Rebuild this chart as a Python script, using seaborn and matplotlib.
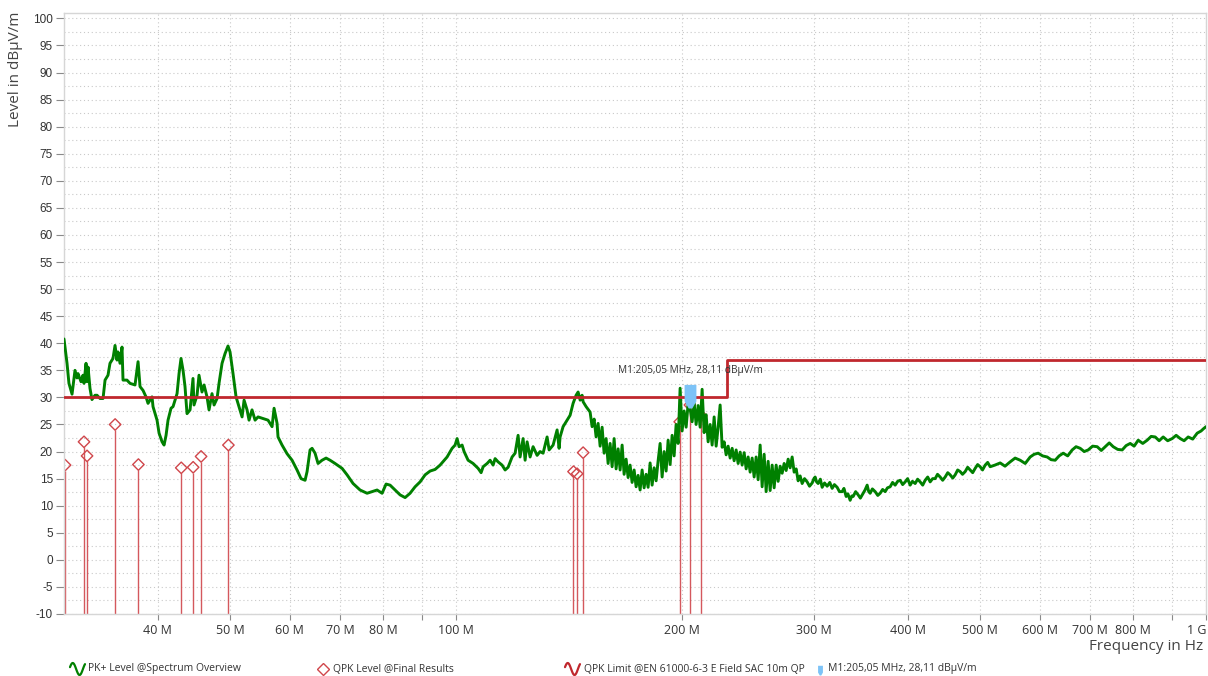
import numpy as np
import pandas as pd
import seaborn as sns
import matplotlib.pyplot as plt
from matplotlib.lines import Line2D
from matplotlib.path import Path
from matplotlib.ticker import NullLocator

# PK+ trace (MHz, dBuV/m)
pk_freq = [
    30.00, 30.28, 30.46, 30.75, 31.03, 31.22, 31.32, 31.61, 31.80, 31.90, 32.10, 32.20, 32.30, 32.49,
    32.69, 33.00, 33.20, 33.51, 33.82, 34.03, 34.34, 34.55, 34.87, 35.09, 35.30, 35.41, 35.63, 35.85,
    35.96, 36.40, 36.74, 37.31, 37.66, 37.89, 38.24, 38.59, 38.83, 39.31, 39.43, 39.92, 40.17, 40.54,
    40.79, 41.04, 41.29, 41.67, 41.93, 42.45, 42.71, 42.97, 43.24, 43.50, 43.77, 44.18, 44.58, 44.72,
    45.14, 45.41, 45.83, 46.12, 46.54, 46.83, 47.26, 47.56, 48.00, 48.29, 48.74, 49.19, 49.64, 49.95,
    50.41, 50.88, 51.19, 51.83, 52.15, 52.63, 52.95, 53.44, 53.94, 54.44, 55.28, 56.13, 56.83, 57.18,
    57.71, 57.88, 58.60, 59.51, 60.43, 61.36, 62.12, 62.89, 63.28, 63.86,
    64.26, 64.45, 64.85, 65.25, 65.45, 66.26, 67.08, 67.91, 68.96, 70.46, 71.55, 72.88, 74.46, 76.08,
    77.26, 78.45, 79.67, 80.65, 81.65, 82.91, 84.20, 85.50, 86.82, 88.17, 89.53, 90.92, 92.32, 93.75,
    95.20, 97.27, 98.78, 99.69, 100.30, 100.92, 101.86, 102.48, 103.75, 105.36, 106.99, 107.98, 108.65,
    109.99, 111.01, 112.03, 112.72, 113.76, 115.16, 116.24, 117.31, 118.76, 119.86, 120.97, 121.71,
    122.84, 123.60, 124.36, 125.51, 126.67, 128.24, 129.42, 130.62, 132.23, 133.05, 134.70,
    136.36, 137.20, 137.62, 138.89, 140.61, 141.91, 143.22, 144.55, 145.44, 146.34, 147.24, 147.70,
    149.06,
    150.90, 151.83, 152.77, 153.71, 154.66, 155.61, 156.57, 157.53, 158.50, 159.48, 160.46, 161.45,
    162.45, 163.45, 164.46, 165.47, 166.49, 167.51, 168.54, 169.58, 170.62, 171.67, 172.74, 173.80,
    174.87, 175.95, 177.03, 178.12, 179.22, 180.32, 181.43, 182.55, 183.68, 184.81, 185.95, 187.09,
    188.25, 189.41, 190.57, 191.75, 192.93, 194.12, 195.31, 196.51, 197.72, 198.94, 200.17, 201.40,
    202.64, 203.89, 205.05, 206.41, 207.69, 208.97, 210.25, 211.55, 212.85, 214.17, 215.49, 216.81,
    218.15, 219.49, 220.85, 222.21, 223.58, 224.95, 226.34, 227.73, 229.14, 230.55, 231.97, 233.40,
    234.84, 236.29, 237.74, 239.21, 240.68, 242.16, 243.66, 245.16, 246.67, 248.19, 249.71, 251.25,
    252.80, 254.36, 255.92, 257.50, 259.09, 260.68, 262.29, 263.90, 265.53, 267.17, 268.81, 270.47,
    272.13, 273.81, 275.50, 277.19, 278.90, 280.62, 282.35, 284.09, 285.84, 287.60, 289.37,
    291.5, 293.85, 296.0, 298.40,
    300.0, 301.16, 302.5, 303.95, 306.0, 307.70, 310.0, 312.46, 315.0, 317.30, 319.5, 322.20, 324.5,
    327.19, 329.0, 331.24, 333.0, 335.33, 337.0, 338.44, 341.0, 343.67, 346.0, 348.99, 351.0, 353.30,
    355.0, 356.57, 359.0, 362.09, 365.0, 367.69, 370.5, 373.38, 376.0, 379.16, 382.0, 385.03, 388.0,
    390.99, 394.0, 397.04, 400.0, 403.18, 406.0, 409.41, 412.5, 415.75, 419.0, 422.18, 425.5, 428.71,
    432.0, 435.35, 438.5, 442.09, 445.5, 448.93, 452.5, 455.87, 459.5, 462.93, 466.5, 470.09, 473.5,
    477.36, 481.0, 484.75, 488.5, 492.25, 496.0, 499.86, 503.5, 507.61, 511.5, 515.46,
    523.0, 531.53, 539.5, 548.10, 556.5, 565.20, 574.0, 582.83, 590.0, 597.32, 605.5, 614.06, 621.5,
    629.34, 637.0, 644.99, 654.0, 663.07, 671.0, 679.56, 688.0, 696.45, 706.0, 715.97, 725.0, 733.78,
    743.0, 752.04, 762.5, 773.11, 782.5, 792.35, 802.0, 812.04, 823.5, 834.79, 845.0, 855.56, 866.0,
    876.84, 889.0, 901.42, 912.5, 923.85, 935.0, 946.80, 960.0, 973.34, 985.0, 992.0, 1000.0,
]
pk_level = [
    40.8, 36.3, 32.6, 30.6, 35.0, 33.6, 34.4, 32.9, 34.1, 32.6, 36.3, 32.9, 35.6, 31.7,
    29.6, 30.4, 30.4, 29.8, 29.8, 33.2, 34.1, 36.3, 37.2, 39.6, 36.9, 38.4, 36.3, 39.3,
    33.2, 33.2, 32.6, 32.3, 36.6, 32.0, 31.3, 30.1, 28.9, 30.1, 28.3, 25.8, 23.4, 21.8,
    21.2, 23.0, 25.8, 28.0, 28.3, 30.7, 34.4, 37.2, 35.0, 32.0, 27.0, 27.7, 33.5, 28.6,
    30.4, 34.1, 31.0, 32.3, 30.1, 27.7, 30.7, 28.6, 29.8, 32.6, 36.3, 38.1, 39.5, 38.4,
    34.4, 30.1, 28.9, 26.4, 29.5, 27.7, 25.8, 27.7, 25.8, 26.4, 26.1, 25.8, 24.6, 28.0,
    25.2, 22.7, 21.2, 19.6, 18.4, 16.6, 15.0, 14.7, 16.3, 20.3,
    20.6, 20.3, 19.7, 18.4, 17.8, 18.4, 18.8, 18.4, 17.8, 16.9, 15.7, 14.1, 12.9, 12.3,
    12.6, 12.9, 12.3, 14.0, 13.8, 12.9, 12.0, 11.5, 12.3, 13.5, 14.4, 15.7, 16.4, 16.7,
    17.5, 19.0, 20.6, 21.2, 22.4, 20.9, 21.2, 20.0, 18.4, 17.8, 16.9, 16.1, 17.2,
    17.8, 18.4, 17.5, 18.7, 18.1, 17.5, 16.6, 17.1, 19.0, 19.7, 23.0, 19.0,
    22.4, 18.4, 21.8, 19.0, 20.9, 19.3, 20.0, 19.7, 22.7, 20.3, 21.2,
    24.0, 20.6, 22.7, 24.6, 25.8, 26.7, 28.9, 30.4, 31.0, 29.5, 30.4, 29.2,
    28.3,
    27.3, 24.6, 26.0, 22.7, 25.2, 21.0, 24.5, 19.7, 22.4, 17.8, 21.5, 17.2,
    22.4, 16.8, 20.5, 16.6, 21.2, 15.8, 18.6, 15.2, 17.5, 14.3, 16.6, 13.5,
    15.6, 12.9, 16.6, 13.3, 15.8, 13.4, 17.9, 13.8, 17.0, 14.6, 18.3, 21.5,
    15.3, 20.0, 16.4, 22.1, 17.6, 23.0, 19.2, 25.0, 21.5, 31.7, 23.8, 27.5,
    24.5, 28.8, 28.1, 25.5, 29.0, 25.0, 28.5, 24.5, 31.5, 23.5, 26.8, 21.8,
    25.0, 21.2, 26.4, 21.0, 24.5, 28.6, 20.8, 21.8, 19.4, 21.0, 18.8, 20.6,
    18.3, 20.3, 17.8, 19.9, 17.5, 19.8, 16.8, 19.0, 16.2, 18.8, 15.3, 19.0,
    14.8, 21.2, 13.5, 19.5, 12.6, 18.2, 12.8, 17.5, 13.3, 17.5, 14.5, 17.3,
    16.0, 17.8, 16.5, 18.6, 17.0, 19.0, 16.2, 16.8, 14.6, 15.5, 14.1,
    15.0, 14.4, 13.6, 14.2,
    15.0, 15.3, 14.4, 14.1, 14.9, 13.4, 14.2, 13.6, 14.3, 13.2, 13.9, 13.4, 12.6,
    12.6, 13.2, 11.7, 12.2, 11.0, 11.8, 11.7, 12.6, 12.0, 11.4, 12.3, 12.9, 13.8,
    12.6, 12.3, 13.1, 12.6, 11.9, 12.3, 13.0, 12.6, 13.3, 13.5, 14.3, 13.8, 14.5,
    14.7, 13.9, 14.4, 15.0, 13.8, 14.5, 14.1, 14.9, 14.4, 13.8, 14.7, 15.3, 14.4,
    15.0, 15.0, 15.8, 15.3, 14.7, 15.3, 16.1, 15.7, 15.1, 15.7, 16.6, 16.3, 15.8,
    16.3, 17.1, 16.6, 16.1, 16.9, 17.6, 17.2, 16.6, 17.5, 18.0, 17.2,
    17.5, 17.9, 17.3, 18.1, 18.8, 18.4, 17.8, 19.0, 19.5, 19.7, 19.2, 19.0, 18.5,
    18.4, 19.2, 19.7, 19.2, 20.3, 20.9, 20.6, 20.0, 20.3, 21.0, 20.9, 20.2, 20.9,
    21.6, 20.9, 20.4, 20.3, 21.1, 21.5, 21.0, 22.1, 21.5, 22.1, 22.8, 22.7, 22.0,
    22.7, 22.0, 22.4, 23.0, 22.4, 22.0, 22.7, 22.3, 23.4, 23.8, 24.2, 24.6,
]

# limit line EN 61000-6-3
limit_freq = [30, 230, 230, 1000]
limit_level = [30, 30, 37, 37]

# QPK final results
qpk_freq = [30.1, 31.9, 32.2, 35.1, 37.7, 43.0, 44.6, 45.7, 49.7, 143.4, 145.0, 147.7, 198.7, 205.0, 212.3]
qpk_level = [17.5, 21.8, 19.2, 25.0, 17.6, 17.0, 17.1, 19.1, 21.2, 16.3, 15.9, 19.8, 25.5, 28.6, 26.6]

marker_freq = 205.05
marker_level = 28.11
marker_text = "M1:205,05 MHz, 28,11 dBµV/m"

x_ticks = [40, 50, 60, 70, 80, 90, 100, 200, 300, 400, 500, 600, 700, 800, 900, 1000]
x_tick_labels = ["40 M", "50 M", "60 M", "70 M", "80 M", "", "100 M", "200 M", "300 M",
                 "400 M", "500 M", "600 M", "700 M", "800 M", "", "1 G"]
y_ticks = list(range(-10, 101, 5))

legend_labels = ["PK+ Level @Spectrum Overview", "QPK Level @Final Results",
                 "QPK Limit @EN 61000-6-3 E Field SAC 10m QP", marker_text]

green = "#008000"
red = "#c0272d"
qpk_red = "#d0464b"
blue = "#7dc3f7"
grid_c = "#c9c9c9"
text_c = "#333333"

sns.set_theme(style="white")
plt.rcParams['font.family'] = ['Open Sans', 'DejaVu Sans']
plt.rcParams['axes.unicode_minus'] = False

W, H = 1208, 676
fig = plt.figure(figsize=(W / 100, H / 100), dpi=100)
ax = fig.add_axes([64 / W, 62 / H, 1142 / W, 601 / H])

pk = pd.DataFrame({"freq": pk_freq, "level": pk_level})
lim = pd.DataFrame({"freq": limit_freq, "level": limit_level})

# QPK stems + diamonds (behind the trace)
ax.vlines(qpk_freq, -10, np.array(qpk_level) - 1.0, color=qpk_red, lw=1.0, alpha=0.9, zorder=1)
sns.scatterplot(x=qpk_freq, y=qpk_level, marker="D", s=34, facecolors="none",
                edgecolor=qpk_red, linewidth=1.0, ax=ax, zorder=2)

sns.lineplot(data=pk, x="freq", y="level", estimator=None, sort=False,
             color=green, lw=2.1, ax=ax, zorder=3)
sns.lineplot(data=lim, x="freq", y="level", estimator=None, sort=False,
             color=red, lw=2.0, ax=ax, zorder=4)

# marker pin
pin = Path([(-0.5, 2.0), (0.5, 2.0), (0.5, 0.6), (0.15, 0.0), (-0.15, 0.0), (-0.5, 0.6), (-0.5, 2.0)],
           [Path.MOVETO] + [Path.LINETO] * 5 + [Path.CLOSEPOLY])
ax.plot([marker_freq], [marker_level], marker=pin, ms=34, color=blue, mec="none", ls="none", zorder=6)
ax.annotate(marker_text, xy=(marker_freq, marker_level), xytext=(0, 23), textcoords="offset points",
            ha="center", va="bottom", fontsize=7.3, color=text_c, zorder=7)

ax.set_xscale("log")
ax.set_xlim(30, 1000)
ax.set_ylim(-10, 101)
ax.set_xticks(x_ticks)
ax.set_xticklabels(x_tick_labels)
ax.xaxis.set_minor_locator(NullLocator())
ax.set_yticks(y_ticks)
ax.set_yticks(np.arange(-7.5, 100, 5), minor=True)
ax.set_xlabel("")
ax.set_ylabel("")

ax.grid(which="major", axis="x", color=grid_c, lw=0.8, ls=(0, (1, 2.5)))
ax.grid(which="both", axis="y", color=grid_c, lw=0.8, ls=(0, (1, 2.5)))
ax.tick_params(axis="y", which="major", left=True, length=6, width=0.8, color="#8a8a8a",
               labelsize=8.5, labelcolor=text_c, pad=2)
ax.tick_params(axis="y", which="minor", left=False, length=0)
ax.tick_params(axis="x", which="major", bottom=True, length=4, width=0.8, color="#8a8a8a",
               labelsize=9, labelcolor=text_c, pad=3)
for lbl in ax.get_yticklabels():
    lbl.set_fontfamily(["Liberation Sans", "DejaVu Sans"])
ax.get_xticklabels()[-1].set_ha("right")
for s in ax.spines.values():
    s.set_color("#d6d6d6")
    s.set_linewidth(1.0)

fig.text(16 / W, 1 - 12 / H, "Level in dBµV/m", rotation=90, ha="center", va="top",
         fontsize=11, color="#444444")
fig.text(1203 / W, 1 - 647 / H, "Frequency in Hz", ha="right", va="center",
         fontsize=11, color="#444444")

# legend row drawn by hand
def fx(px):
    return px / W

def fy(py):
    return 1 - py / H

ly = 669
t = np.linspace(0, 1, 40)
wave_y = np.sin(2 * np.pi * (0.05 + 1.1 * t))
for x0, c in [(70, green), (565, red)]:
    fig.add_artist(Line2D(fx(x0 + 15 * t), fy(ly - 6 * wave_y), color=c, lw=1.6))
fig.add_artist(Line2D([fx(323)], [fy(ly)], marker="D", ms=6, mfc="none", mec=qpk_red, mew=1.0, ls="none"))
fig.add_artist(Line2D([fx(820)], [fy(ly + 6)], marker=pin, ms=14, color=blue, mec="none", ls="none"))
for x0, lab in zip([88, 333, 584, 828], legend_labels):
    fig.text(fx(x0), fy(ly), lab, ha="left", va="center", fontsize=7.5, color=text_c)

fig.savefig("out.png", dpi=100)
